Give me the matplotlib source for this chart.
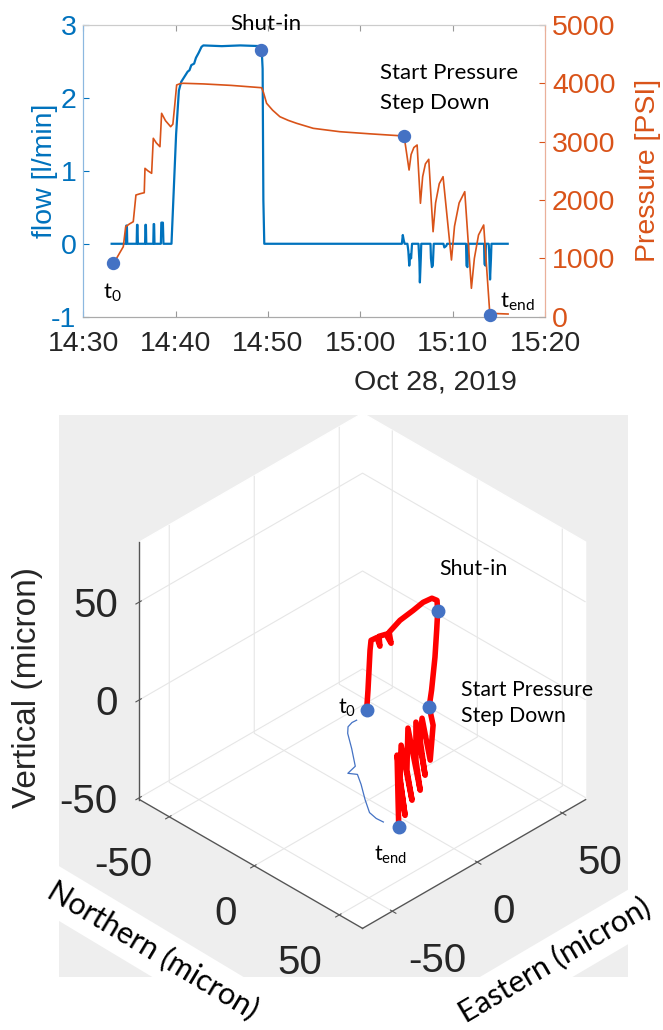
import numpy as np
import matplotlib
matplotlib.use("Agg")
import matplotlib.pyplot as plt
import matplotlib.dates as mdates
from datetime import datetime
from matplotlib.patches import Rectangle
from matplotlib.lines import Line2D
from matplotlib.transforms import IdentityTransform
from mpl_toolkits.mplot3d import proj3d

plt.rcParams["font.family"] = ["Liberation Sans", "DejaVu Sans"]
plt.rcParams["axes.unicode_minus"] = False
plt.rcParams["mathtext.fontset"] = "custom"
plt.rcParams["mathtext.rm"] = "Lato"
plt.rcParams["mathtext.it"] = "Lato:italic"

NOTE_FONT = "Lato"
BLUE = "#0072BD"
ORANGE = "#D95319"
DOT = "#4472C4"
INK = "#262626"

# --- injection record, minutes after 14:30 on Oct 28 2019 ---
flow_min = [3.07, 4.62, 4.66, 4.72, 4.76, 5.78, 5.82, 5.87, 5.91,
            6.69, 6.73, 6.78, 6.82, 7.58, 7.62, 7.67, 7.71, 8.40, 8.45, 8.62, 8.68,
            9.55, 9.75, 10.05, 10.35, 10.6, 11.0, 11.3, 11.5, 11.7, 12.0, 12.2, 12.5, 12.8, 13.0,
            15.0, 17.0, 19.3, 19.42, 19.5, 19.6,
            34.5, 34.6, 34.7, 34.8,
            35.1, 35.2, 35.3, 35.4, 35.5, 35.6,
            36.3, 36.4, 36.45, 36.55, 36.6,
            37.6, 37.65, 37.75, 37.85, 37.95,
            39.0, 39.1, 39.3, 39.4,
            41.45, 41.5, 41.6, 41.7,
            43.4, 43.45, 43.55, 43.6, 43.9, 43.95, 44.05, 44.15, 44.2,
            45.96]
flow_lpm = [0.0, 0.0, 0.25, 0.25, 0.0, 0.0, 0.26, 0.26, 0.0,
            0.0, 0.26, 0.26, 0.0, 0.0, 0.27, 0.27, 0.0, 0.0, 0.29, 0.29, 0.0,
            0.0, 0.6, 1.5, 2.1, 2.22, 2.3, 2.36, 2.38, 2.45, 2.47, 2.55, 2.62, 2.7, 2.72,
            2.71, 2.72, 2.71, 2.4, 0.6, 0.0,
            0.0, 0.12, 0.05, 0.0,
            0.0, -0.1, -0.3, -0.15, -0.2, 0.0,
            0.0, -0.25, -0.53, -0.2, 0.0,
            0.0, -0.2, -0.32, -0.3, 0.0,
            0.0, -0.05, -0.03, 0.0,
            0.0, -0.3, -0.32, 0.0,
            0.0, -0.28, -0.3, 0.0, 0.0, -0.1, -0.49, -0.2, 0.0,
            0.0]

pres_min = [3.18, 3.6, 4.0, 4.33, 4.59, 5.0, 5.41, 5.70, 6.2, 6.6, 6.68, 7.0, 7.40, 7.58, 7.9, 8.30,
            8.48, 8.9, 9.46, 9.7, 9.9, 10.11, 10.5, 10.82, 13.0, 16.0, 19.31, 19.5, 19.85, 20.5,
            21.29, 22.2, 23.1, 24.9, 27.78, 31.0, 34.74,
            35.28, 35.5, 35.8, 36.15, 36.51, 36.75, 37.05, 37.41, 37.88, 38.15, 38.55, 38.96,
            39.87, 40.2, 40.7, 41.31, 42.03, 42.35, 42.8, 43.36, 44.02, 46.0]
pres_psi = [898, 1000, 1110, 1200, 1543, 1590, 1628, 2086, 2110, 2125, 2543, 2500, 2458, 3058, 2980, 2914,
            3486, 3360, 3257, 3300, 3620, 3972, 3995, 4001, 3990, 3965, 3925, 3850, 3658, 3540,
            3428, 3365, 3315, 3229, 3171, 3135, 3097,
            2514, 2780, 2900, 2943, 1944, 2400, 2620, 2698, 1457, 1950, 2280, 2400,
            972, 1550, 1950, 2143, 487, 1000, 1400, 1572, 58, 46]

# t0, shut-in, start of pressure step down, t_end (read on the flow axis)
event_min = [3.18, 19.2, 34.74, 44.02]
event_flow = [-0.27, 2.66, 1.48, -0.97]

# --- displacement path, micron ---
north = [3.3, 3.7, 4.0, 4.3, 4.6, 6.4, 7.2, 7.0, 9.0, 10.5, 9.9, 13.1, 17.0, 19.9, 22.5, 24.0, 24.2, 23.9, 23.4, 22.4, 21.7,
         25.2, 28.7, 21.1, 23.3, 29.1, 19.8, 24.5, 29.5, 18.2, 23.1, 28.4, 18.3, 22.3, 28.2, 18.4, 24.3, 27.8]
east = [-4.7, -4.3, -4.0, -3.7, -3.4, -1.7, -0.8, -1.1, 1.0, 2.5, 1.9, 5.1, 9.0, 11.9, 14.5, 16.0, 16.2, 15.9, 15.4, 14.4, 13.7,
        12.5, 7.3, 10.1, 6.8, 3.9, 7.8, 3.1, 0.6, 4.7, -0.8, -3.1, 0.6, -4.1, -7.0, -1.9, -7.2, -10.3]
vert = [-1.3, 8.9, 19.1, 29.3, 34.4, 35.9, 31.4, 36.5, 37.5, 32.9, 38.5, 44.6, 49.7, 53.8, 55.9, 54.8, 49.2, 39.5, 25.8, 8.9, 0.5,
        -6.6, -20.1, -3.9, -12.4, -25.9, -5.4, -20.1, -31.7, -7.7, -24.0, -35.5, -14.3, -27.8, -41.4, -18.1, -35.5, -45.9]
event_idx = [0, 16, 20, 37]

W, H = 663, 1030
fig = plt.figure(figsize=(W / 100, H / 100), dpi=100)


def fig_box(x0, y0, x1, y1):
    # pixel box (top-left origin) -> figure fraction
    return [x0 / W, 1 - y1 / H, (x1 - x0) / W, (y1 - y0) / H]


def pt(v):
    return v * 0.72


t_base = mdates.date2num(datetime(2019, 10, 28, 14, 30))


def to_num(m):
    return t_base + np.asarray(m, dtype=float) / 1440.0


# %% top: flow + pressure
ax = fig.add_axes(fig_box(83.3, 25, 545, 316.7))
ax2 = ax.twinx()

ax.plot(to_num(flow_min), flow_lpm, color=BLUE, lw=1.6)
ax2.plot(to_num(pres_min), pres_psi, color=ORANGE, lw=1.2)
ev_x = to_num(event_min)
ax2.plot(ev_x, event_flow, "o", ms=8.6, color=DOT, transform=ax.transData, zorder=5, clip_on=False)

ax.set_xlim(float(to_num(0)), float(to_num(50)))
ax.set_ylim(-1, 3)
ax.set_yticks([-1, 0, 1, 2, 3])
ax2.set_ylim(0, 5000)
ax2.set_yticks(range(0, 5001, 1000))
ax.xaxis.set_major_locator(mdates.MinuteLocator(byminute=range(0, 60, 10)))
ax.xaxis.set_major_formatter(mdates.DateFormatter("%H:%M"))

ax.tick_params(axis="x", direction="in", length=4, top=True, labelsize=20.5,
               labelcolor=INK, color="#999999", pad=10)
ax.tick_params(axis="y", direction="in", length=4, labelsize=20.5, colors=BLUE, pad=5)
ax2.tick_params(axis="y", direction="in", length=4, labelsize=20.5, colors=ORANGE, pad=5)
for a in (ax, ax2):
    a.spines["left"].set_color("#8cb8e0")
    a.spines["right"].set_color("#eab09a")
    a.spines["top"].set_color("#cccccc")
    a.spines["bottom"].set_color("#aaaaaa")
ax.set_ylabel("flow [l/min]", color=BLUE, fontsize=20.5, labelpad=-5)
ax2.set_ylabel("Pressure [PSI]", color=ORANGE, fontsize=20.5, labelpad=14)
ax.text(0.762, -0.227, "Oct 28, 2019", transform=ax.transAxes, ha="center", va="center",
        fontsize=20.5, color=INK)

note = dict(textcoords="offset points", fontsize=16, family=NOTE_FONT, color="black", va="center")
ax2.annotate("Shut-in", xy=(ev_x[1], event_flow[1]), xycoords=ax.transData,
             xytext=(pt(5), pt(26)), ha="center", **note)
ax2.annotate("Start Pressure\nStep Down", xy=(ev_x[2], event_flow[2]), xycoords=ax.transData,
             xytext=(pt(-23.6), pt(48)), ha="left", linespacing=1.6, **note)
ax2.annotate(r"$\mathrm{t}_{\mathrm{0}}$", xy=(ev_x[0], event_flow[0]), xycoords=ax.transData,
             xytext=(0, pt(-29)), ha="center", **note)
ax2.annotate(r"$\mathrm{t}_{\mathrm{end}}$", xy=(ev_x[3], event_flow[3]), xycoords=ax.transData,
             xytext=(pt(10), pt(13)), ha="left", **note)

# %% bottom: 3-D displacement
fig.add_artist(Rectangle((59 / W, 1 - 976.7 / H), (627.5 - 59) / W, (976.7 - 415) / H,
                         transform=fig.transFigure, facecolor="#eeeeee", edgecolor="none", zorder=-5))

ax3 = fig.add_axes([0.1, 0.03, 0.8, 0.55], projection="3d", computed_zorder=False)
ax3.set_facecolor((1, 1, 1, 0))
ax3.set_proj_type("ortho")
ax3.view_init(elev=35.264, azim=-45)
ax3.set_box_aspect((1, 1, 1))
ax3.set_xlim(-67.5, 63.7)
ax3.set_ylim(-67.5, 63.7)
ax3.set_zlim(-51, 80.6)
for axis in (ax3.xaxis, ax3.yaxis, ax3.zaxis):
    axis.set_ticks([-50, 0, 50])
    axis.set_ticklabels([])
    axis.set_pane_color((1, 1, 1, 1))
    axis.pane.set_edgecolor((1, 1, 1, 1))
    axis.line.set_color("#555555")
    axis.line.set_linewidth(1.0)
    axis._axinfo["grid"].update(color="#e6e6e6", linewidth=0.8)
ax3.zaxis.set_ticks_position("lower")
ax3.tick_params(colors="#555555")

ax3.plot(north, east, vert, color="red", lw=4.0, solid_joinstyle="round",
         solid_capstyle="round", zorder=2)
ax3.plot([north[i] for i in event_idx], [east[i] for i in event_idx], [vert[i] for i in event_idx],
         "o", ms=9, color=DOT, zorder=3)


def project(xs, ys, zs):
    px_, py_, _ = proj3d.proj_transform(np.asarray(xs, float), np.asarray(ys, float),
                                        np.asarray(zs, float), ax3.get_proj())
    return ax3.transData.transform(np.column_stack([px_, py_]))


# fit the box into the target hexagon
fig.canvas.draw()
x0, x1 = ax3.get_xlim()
y0, y1 = ax3.get_ylim()
z0, z1 = ax3.get_zlim()
ll = project([x0], [y0], [z0])[0]
rl = project([x1], [y1], [z0])[0]
bb = ax3.get_position()
cx, cy = (bb.x0 + bb.x1) / 2 * W, (bb.y0 + bb.y1) / 2 * H
k = (585.6 - 139.5) / (rl[0] - ll[0])
side = k * bb.width * W
ncx = 139.5 - k * (ll[0] - cx)
ncy = (H - 799.6) - k * (ll[1] - cy)
ax3.set_position([(ncx - side / 2) / W, (ncy - side / 2) / H, side / W, side / H])
fig.canvas.draw()


def text_px(x, y, s, **kw):
    fig.text(x / W, y / H, s, **kw)


# tick labels, MATLAB style placement
tk = dict(fontsize=29, color=INK, va="center_baseline")
xt = ax3.get_xticks()
yt = ax3.get_yticks()
zt = ax3.get_zticks()
for v, p in zip(xt, project(xt, np.full(len(xt), y0), np.full(len(xt), z0))):
    text_px(p[0] - 17, p[1] - 44.5, f"{v:g}", ha="right", **tk)
for v, p in zip(yt, project(np.full(len(yt), x1), yt, np.full(len(yt), z0))):
    text_px(p[0] + 15.5, p[1] - 46, f"{v:g}", ha="left", **tk)
for v, p in zip(zt, project(np.full(len(zt), x0), np.full(len(zt), y0), zt)):
    text_px(p[0] - 21.5, p[1], f"{v:g}", ha="right", **tk)

ev = project([north[i] for i in event_idx], [east[i] for i in event_idx], [vert[i] for i in event_idx])

nkw = dict(fontsize=15.3, family=NOTE_FONT, color="black", va="center")
text_px(ev[0][0] - 11, ev[0][1] + 2, r"$\mathrm{t}_{\mathrm{0}}$", ha="right", **nkw)
text_px(ev[1][0] + 2, ev[1][1] + 42, "Shut-in", ha="left", **nkw)
text_px(ev[2][0] + 32, ev[2][1] + 3.5, "Start Pressure\nStep Down", ha="left", linespacing=1.37, **nkw)
text_px(ev[3][0] - 8, ev[3][1] - 28, r"$\mathrm{t}_{\mathrm{end}}$", ha="center", **nkw)

# curly brace from t0 down to t_end
A = ev[0] + np.array([-10.0, -10.0])
B = ev[3] + np.array([-15.4, 5.0])
s_prof = np.array([0, 0.01, 0.04, 0.1, 0.25, 0.42, 0.467, 0.5, 0.6, 0.75, 0.88, 0.95, 1.0])
d_prof = np.array([0, 5, 10, 12, 12, 13, 22, 13, 12, 12, 11, 6, 0])
ab = B - A
perp = np.array([-ab[1], ab[0]]) / np.hypot(*ab)
if perp[0] > 0:
    perp = -perp
pts = A + np.outer(s_prof, ab) + np.outer(d_prof, perp)
fig.add_artist(Line2D(pts[:, 0], pts[:, 1], transform=IdentityTransform(), color=DOT, lw=0.9))

# axis titles
fig.text(28 / W, 1 - 687 / H, "Vertical (micron)", rotation=90, fontsize=24, color=INK,
         ha="center", va="center")
band = dict(facecolor="white", edgecolor="none", boxstyle="square,pad=0.3")
fig.text(153 / W, 1 - 950 / H, "Northern (micron)", rotation=-31, rotation_mode="anchor",
         fontsize=22, family=NOTE_FONT, color="black", ha="center", va="center", bbox=band)
fig.text(555 / W, 1 - 960 / H, "Eastern (micron)", rotation=30.5, rotation_mode="anchor",
         fontsize=22, family=NOTE_FONT, color="black", ha="center", va="center", bbox=band)

fig.savefig("out.png", dpi=100)
